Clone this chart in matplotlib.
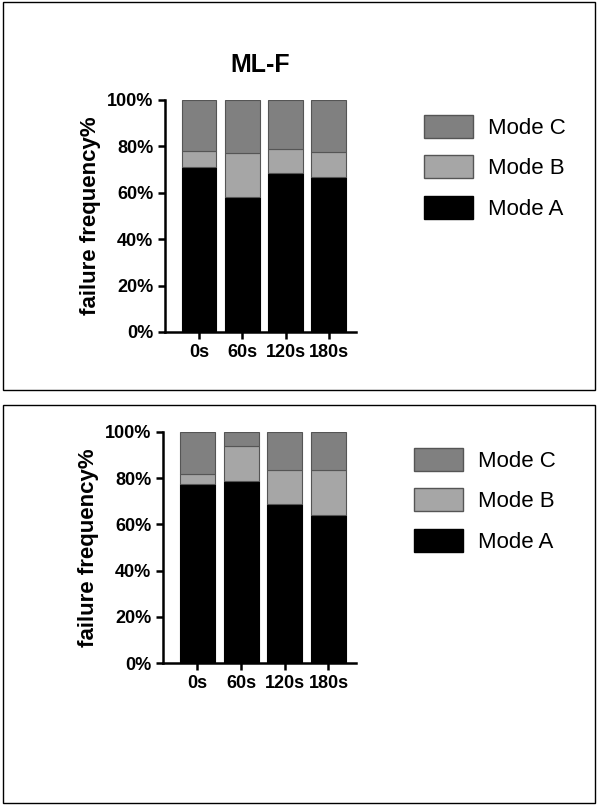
import matplotlib.pyplot as plt
from matplotlib.patches import Rectangle, Patch
from matplotlib.ticker import PercentFormatter

times = ["0s", "60s", "120s", "180s"]
top_a = [71, 58, 68.5, 67]
top_b = [7, 19, 10.5, 10.5]
bot_a = [77.5, 79, 69, 64]
bot_b = [4.5, 15, 14.5, 19.5]

W, H = 599, 808
fig = plt.figure(figsize=(W / 100, H / 100), dpi=100)
plt.rcParams['font.family'] = ['Liberation Sans', 'DejaVu Sans']

for y0, y1 in [(2, 390), (405, 803)]:
    fig.patches.append(Rectangle((3 / W, 1 - y1 / H), 592 / W, (y1 - y0) / H,
                                 transform=fig.transFigure, fill=False, lw=1, ec='black'))

def panel(rect, a, b, title, leg_x, leg_y):
    x0, y0, x1, y1 = rect
    ax = fig.add_axes([x0 / W, 1 - y1 / H, (x1 - x0) / W, (y1 - y0) / H])
    c = [100 - i - j for i, j in zip(a, b)]
    ax.bar(times, a, width=0.8, color='black', edgecolor='black', lw=0.8)
    ax.bar(times, b, bottom=a, width=0.8, color='#a6a6a6', edgecolor='#555555', lw=0.8)
    ax.bar(times, c, bottom=[i + j for i, j in zip(a, b)], width=0.8,
           color='#808080', edgecolor='#555555', lw=0.8)
    ax.set_ylim(0, 100)
    ax.set_xlim(-0.79, 3.63)
    ax.set_yticks(range(0, 101, 20))
    ax.yaxis.set_major_formatter(PercentFormatter(decimals=0))
    for s in ['top', 'right']:
        ax.spines[s].set_visible(False)
    for s in ['left', 'bottom']:
        ax.spines[s].set_linewidth(1.8)
    ax.tick_params(width=1.8, length=5, labelsize=13)
    for t in ax.get_xticklabels() + ax.get_yticklabels():
        t.set_fontweight('bold')
    ax.set_ylabel("failure frequency%", fontsize=16, fontweight='bold')
    if title:
        ax.set_title(title, fontsize=18, fontweight='bold', pad=20)
    handles = [Patch(fc='#808080', ec='#555555', label='Mode C'),
               Patch(fc='#a6a6a6', ec='#555555', label='Mode B'),
               Patch(fc='black', ec='black', label='Mode A')]
    fig.legend(handles=handles, loc='upper left', bbox_to_anchor=(leg_x / W, 1 - leg_y / H),
               frameon=False, fontsize=16, handlelength=2.2, handleheight=1.2,
               labelspacing=0.75, handletextpad=0.7, borderaxespad=0)
    return ax

panel((165, 100, 356, 332), top_a, top_b, "ML-F", 415, 106)
panel((163, 432, 356, 663), bot_a, bot_b, None, 405, 439)

fig.savefig("out.png", dpi=100)
